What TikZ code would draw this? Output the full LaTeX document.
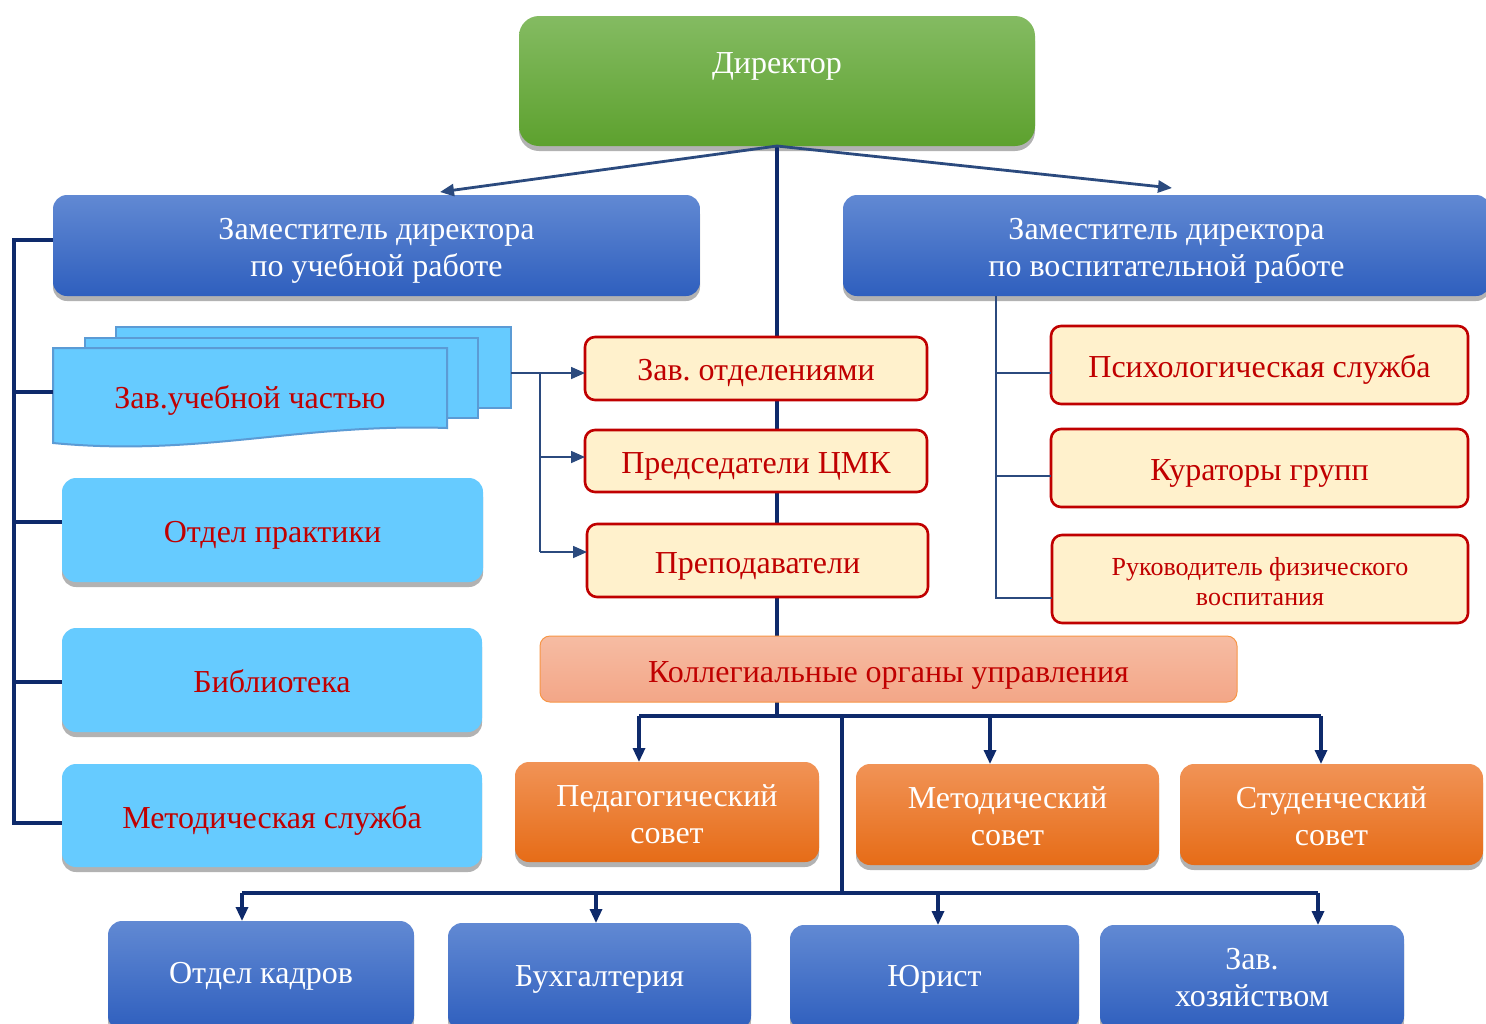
\documentclass[tikz,border=0pt]{standalone}
\usepackage{fontspec}
\setmainfont{Liberation Serif}
\usetikzlibrary{shadows,arrows.meta}
\frenchspacing
\newcommand\lowtxt[2]{\raisebox{-#1}[\height][\depth]{#2}}
\definecolor{navy}{HTML}{0E2A6B}
\definecolor{lnk}{HTML}{2B4A7E}
\definecolor{dred}{HTML}{C00000}
\definecolor{gtop}{HTML}{84BB62}
\definecolor{gbot}{HTML}{5DA12E}
\definecolor{btop}{HTML}{6189D3}
\definecolor{bbot}{HTML}{2F5FBE}
\definecolor{lblue}{HTML}{66CBFF}
\definecolor{docb}{HTML}{5B9BD5}
\definecolor{ylw}{HTML}{FFF1CC}
\definecolor{otop}{HTML}{F19356}
\definecolor{obot}{HTML}{E66C17}
\definecolor{stop}{HTML}{F6BCA3}
\definecolor{sbot}{HTML}{F3A687}
\definecolor{sbrd}{HTML}{F79646}
\tikzset{
  box/.style={rounded corners=7pt, align=center, inner sep=0pt, outer sep=0pt,
    font=\fontsize{16}{18.5}\selectfont},
  shd/.style={drop shadow={shadow xshift=0pt, shadow yshift=-2.5pt, opacity=0.3, fill=black}},
  greenbox/.style={box, shd, top color=gtop, bottom color=gbot, text=white, rounded corners=10pt},
  bluebox/.style={box, shd, top color=btop, bottom color=bbot, text=white},
  lbbox/.style={box, shd, fill=lblue, text=dred},
  ybox/.style={box, fill=ylw, draw=dred, line width=1.3pt, text=dred, rounded corners=5pt},
  obox/.style={box, shd, top color=otop, bottom color=obot, text=white},
  sbox/.style={box, top color=stop, bottom color=sbot, draw=sbrd, line width=0.5pt, text=dred, rounded corners=5pt},
  doc/.style={fill=lblue, draw=docb, line width=1pt},
  bus/.style={draw=navy, line width=1.8pt},
  rbus/.style={draw=lnk, line width=1.4pt},
  arr/.style={draw=lnk, line width=1.4pt, -{Triangle[length=7pt,width=6pt]}},
  busarr/.style={draw=navy, line width=1.6pt, -{Triangle[length=7pt,width=6pt]}},
  thinarr/.style={draw=lnk, line width=0.8pt, -{Triangle[length=7pt,width=6pt]}},
  thinln/.style={draw=lnk, line width=0.8pt},
}
\begin{document}
\begin{tikzpicture}[x=0.5pt,y=-0.5pt]
\useasboundingbox (0,0) rectangle (1486,1023);
\fill[white] (0,0) rectangle (1486,1023);

% director
\node[greenbox, minimum width=258pt, minimum height=65pt,
  label={[text=white, yshift=7.5pt, font=\fontsize{16}{18}\selectfont]center:Директор}] (dir) at (777,81) {};

\coordinate (cbus) at (777,716);
\draw[bus] (dir.south) -- (cbus);

% deputies
\node[bluebox, minimum width=323.5pt, minimum height=50.5pt] (zl) at (376.5,245.5) {\lowtxt{2.5pt}{Заместитель директора}\\\lowtxt{2.5pt}{по учебной работе}};
\node[bluebox, minimum width=323.5pt, minimum height=50.5pt] (zr) at (1166.5,245.5) {\lowtxt{2.5pt}{Заместитель директора}\\\lowtxt{2.5pt}{по воспитательной работе}};
\draw[arr] (dir.south) -- (440,192);
\draw[arr] (dir.south) -- (1172,188);

% documents
\draw[doc] (116,327) rectangle (511,408);
\draw[doc] (85,338) rectangle (478,418);
\draw[doc] (53,348) -- (447,348) -- (447,428) .. controls (300,423) and (200,457) .. (53,443) -- cycle;
\node[text=dred, font=\fontsize{16}{18.5}\selectfont] (zuch) at (250,400) {Зав.учебной частью};
\coordinate (docr) at (511,373);
\coordinate (docl) at (53,392);

% left blue boxes
\node[lbbox, minimum width=210.5pt, minimum height=52pt] (prak) at (272.5,530) {\lowtxt{2.5pt}{Отдел практики}};
\node[lbbox, minimum width=210pt, minimum height=52pt] (bibl) at (272,680) {\lowtxt{0.5pt}{Библиотека}};
\node[lbbox, minimum width=210pt, minimum height=51.5pt] (metod) at (272,815.5) {\lowtxt{2.5pt}{Методическая служба}};

% left bracket
\coordinate (lt) at (14,240);
\coordinate (lb) at (14,823);
\draw[bus] (lt -| zl.west) -- (lt) -- (lb) -- (metod.west |- lb);
\draw[bus] (14,392) -- (docl);
\draw[bus] (14,522) -- (prak.west |- 0,522);
\draw[bus] (14,682) -- (bibl.west |- 0,682);

% yellow middle boxes
\node[ybox, minimum width=171pt, minimum height=31.5pt] (zo) at (756,368.5) {\lowtxt{2pt}{Зав. отделениями}};
\node[ybox, minimum width=171pt, minimum height=31pt] (pc) at (756,461) {\lowtxt{2.5pt}{Председатели ЦМК}};
\node[ybox, minimum width=170.5pt, minimum height=36.5pt] (pp) at (757.5,560.5) {\lowtxt{3pt}{Преподаватели}};

\coordinate (jn) at (540,373);
\draw[thinarr] (docr) -- (zo.west |- docr);
\draw[thinln] (jn) -- (540,552);
\draw[thinarr] (540,457) -- (pc.west |- 0,457);
\draw[thinarr] (540,552) -- (pp.west |- 0,552);

% right yellow boxes
\node[ybox, minimum width=208.5pt, minimum height=39pt] (psy) at (1259.5,365) {\lowtxt{2pt}{Психологическая служба}};
\node[ybox, minimum width=208.5pt, minimum height=39pt] (kur) at (1259.5,468) {\lowtxt{2.5pt}{Кураторы групп}};
\node[ybox, minimum width=208pt, minimum height=44pt, font=\fontsize{13}{15}\selectfont] (ruk) at (1260,579) {\lowtxt{1.5pt}{Руководитель физического}\\\lowtxt{1.5pt}{воспитания}};
\draw[rbus] (zr.south -| 996,0) -- (996,598) -- (ruk.west |- 0,598);
\draw[rbus] (996,373) -- (psy.west |- 0,373);
\draw[rbus] (996,476) -- (kur.west |- 0,476);

% collegial
\node[sbox, minimum width=348.5pt, minimum height=33pt] (kol) at (888.5,669) {\lowtxt{3pt}{Коллегиальные органы управления}};

% orange councils
\node[obox, minimum width=152pt, minimum height=50pt] (ped) at (667,812) {\lowtxt{1pt}{Педагогический}\\\lowtxt{1pt}{совет}};
\node[obox, minimum width=151.5pt, minimum height=50.5pt] (met) at (1007.5,814.5) {\lowtxt{1pt}{Методический}\\\lowtxt{1pt}{совет}};
\node[obox, minimum width=151.5pt, minimum height=50.5pt] (stu) at (1331.5,814.5) {\lowtxt{1pt}{Студенческий}\\\lowtxt{1pt}{совет}};

\draw[bus] (639,716) -- (1321,716);
\draw[busarr] (639,716) -- (ped.north -| 639,0);
\draw[busarr] (990,716) -- (met.north -| 990,0);
\draw[busarr] (1321,716) -- (stu.north -| 1321,0);

% bottom boxes
\node[bluebox, minimum width=153pt, minimum height=54.5pt] (kadr) at (261,975.5) {\lowtxt{0.5pt}{Отдел кадров}};
\node[bluebox, minimum width=151.5pt, minimum height=53.5pt] (buh) at (599.5,976.5) {\lowtxt{1.5pt}{Бухгалтерия}};
\node[bluebox, minimum width=144.5pt, minimum height=52.5pt] (jur) at (934.5,977.5) {\lowtxt{1pt}{Юрист}};
\node[bluebox, minimum width=152pt, minimum height=52.5pt] (hoz) at (1252,977.5) {Зав.\\хозяйством};

\coordinate (bbus) at (842,893);
\draw[bus] (cbus -| 842,0) -- (bbus);
\draw[bus] (242,893) -- (1318,893);
\draw[busarr] (242,893) -- (kadr.north -| 242,0);
\draw[busarr] (596,893) -- (buh.north -| 596,0);
\draw[busarr] (938,893) -- (jur.north -| 938,0);
\draw[busarr] (1318,893) -- (hoz.north -| 1318,0);
\end{tikzpicture}
\end{document}
